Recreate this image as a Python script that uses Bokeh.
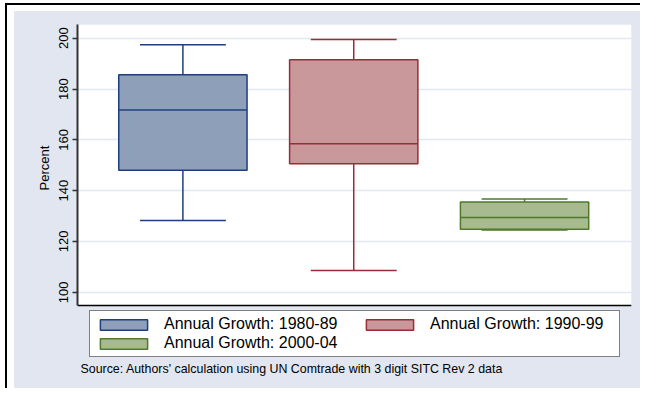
from bokeh.plotting import figure
from bokeh.models import (ColumnDataSource, FixedTicker, Legend, LegendItem, Label, Title,
                          Range1d, BoxAnnotation, Span)
from bokeh.embed import file_html
from bokeh.resources import INLINE

# ---- data ----
categories = ["Annual Growth: 1980-89", "Annual Growth: 1990-99", "Annual Growth: 2000-04"]
lower_whisker = [128.3, 108.6, 124.5]
q1 = [148.0, 150.6, 124.8]
median = [171.7, 158.5, 129.4]
q3 = [185.6, 191.5, 135.5]
upper_whisker = [197.4, 199.5, 136.7]
y_ticks = [100, 120, 140, 160, 180, 200]
y_label = "Percent"
source_note = "Source: Authors' calculation using UN Comtrade with 3 digit SITC Rev 2 data"

fill_colors = ["#8e9fba", "#c8989b", "#a8ba90"]
line_colors = ["#1f3f7c", "#9a2c36", "#4e7a2a"]

FONT = "Liberation Sans"
PANEL = "#e1e6f0"

# plotted value window (the frame is extended below it to hold legend and note)
Y_MIN, Y_MAX = 94.8, 205.4
PLOT_H, BELOW_H = 281, 83
y_low = Y_MIN - BELOW_H * (Y_MAX - Y_MIN) / PLOT_H

pos = [i + 1 for i in range(len(categories))]
box_w = 0.751
cap_w = 0.503

src = ColumnDataSource(dict(
    x=pos, cat=categories, lw=lower_whisker, q1=q1, med=median, q3=q3, uw=upper_whisker,
    fill=fill_colors, line=line_colors,
    bl=[p - box_w / 2 for p in pos], br=[p + box_w / 2 for p in pos],
    cl=[p - cap_w / 2 for p in pos], cr=[p + cap_w / 2 for p in pos],
))

p = figure(width=640, height=388, output_backend="svg", toolbar_location=None,
           x_range=Range1d(0.383, 3.626), y_range=Range1d(y_low, Y_MAX),
           min_border_left=77, min_border_right=9, min_border_top=24, min_border_bottom=0,
           x_axis_type=None)
p.border_fill_color = None
p.background_fill_color = None
p.outline_line_color = None
p.styles = {
    "background-color": "white",
    "background-image": f"linear-gradient({PANEL},{PANEL}), linear-gradient(#000,#000), linear-gradient(#000,#000)",
    "background-size": "626px 377px, 635px 2px, 2px 385px",
    "background-position": "14px 11px, 5px 3px, 5px 3px",
    "background-repeat": "no-repeat",
}

# white plotting area
p.add_layout(BoxAnnotation(bottom=Y_MIN, fill_color="white", fill_alpha=1.0,
                           line_color=None, level="image"))

# whiskers
p.segment(x0="x", y0="q3", x1="x", y1="uw", source=src, line_color="line", line_width=1.5)
p.segment(x0="x", y0="q1", x1="x", y1="lw", source=src, line_color="line", line_width=1.5)
p.segment(x0="cl", y0="uw", x1="cr", y1="uw", source=src, line_color="line", line_width=1.5)
p.segment(x0="cl", y0="lw", x1="cr", y1="lw", source=src, line_color="line", line_width=1.5)
# boxes
boxes = p.vbar(x="x", width=box_w, bottom="q1", top="q3", source=src,
               fill_color="fill", line_color="line", line_width=1.5)
# medians
p.segment(x0="bl", y0="med", x1="br", y1="med", source=src, line_color="line", line_width=1.5)

# y axis
yax = p.yaxis[0]
yax.ticker = FixedTicker(ticks=y_ticks)
yax.bounds = (Y_MIN, Y_MAX)
yax.major_label_orientation = "vertical"
yax.major_label_text_font = FONT
yax.major_label_text_font_size = "13px"
yax.major_label_text_color = "black"
yax.major_label_standoff = 4
yax.major_tick_in = 0
yax.major_tick_out = 5
yax.major_tick_line_color = "#333333"
yax.major_tick_line_width = 1.5
yax.minor_tick_line_color = None
yax.axis_line_color = "#333333"
yax.axis_line_width = 2

# y axis title, centred on the plotted value window
p.add_layout(Title(text=y_label, align="left", offset=198, standoff=10,
                   text_font=FONT, text_font_size="13px", text_font_style="normal",
                   text_color="black"), "left")

# bottom axis line
p.add_layout(Span(location=Y_MIN, dimension="width", line_color="black", line_width=1.5))

p.ygrid.ticker = FixedTicker(ticks=y_ticks)
p.ygrid.grid_line_color = "#e2e7f1"
p.ygrid.grid_line_width = 1.5
p.xgrid.visible = False

common = dict(glyph_width=59, glyph_height=13, label_height=13, label_standoff=11,
              spacing=1, padding=4, margin=0,
              label_text_font=FONT, label_text_font_size="16px", label_text_color="black")

# boxed legend: first column (and frame around both columns)
legend1 = Legend(items=[LegendItem(label=categories[0], renderers=[boxes], index=0),
                        LegendItem(label=categories[2], renderers=[boxes], index=2)],
                 location=(12, 31), orientation="vertical", label_width=451,
                 border_line_color="black", border_line_width=1.2,
                 background_fill_color="white", background_fill_alpha=1.0, **common)
p.add_layout(legend1, "center")
# second column
legend2 = Legend(items=[LegendItem(label=categories[1], renderers=[boxes], index=1)],
                 location=(283, 55), orientation="vertical",
                 border_line_color=None, background_fill_alpha=0.0, **common)
p.add_layout(legend2, "center")

note = Label(x=3, y=20, x_units="screen", y_units="screen", text=source_note,
             text_font=FONT, text_font_size="12.4px", text_color="black", text_baseline="middle")
p.add_layout(note)

open("out.html", "w").write(file_html(p, INLINE))
